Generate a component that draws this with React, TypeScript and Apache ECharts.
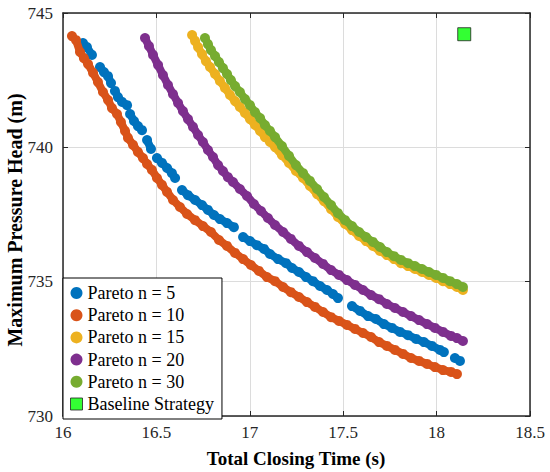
import React, { useEffect, useRef } from "react";
import * as echarts from "echarts";

// ---- tick labels ----
const xTicks = [16, 16.5, 17, 17.5, 18, 18.5];
const yTicks = [730, 735, 740, 745];

// ---- series names ----
const seriesNames = [
  "Pareto n = 5",
  "Pareto n = 10",
  "Pareto n = 15",
  "Pareto n = 20",
  "Pareto n = 30",
];
const baselineName = "Baseline Strategy";

// ---- series values [closing time (s), max pressure head (m)] ----
const G: [string, string] = ["-", "-"]; // gap between dot clusters
const pareto5: any[] = [
  [16.107, 743.88], [16.128, 743.73], [16.155, 743.44], G,
  [16.198, 742.99], [16.219, 742.8], [16.241, 742.65], [16.257, 742.39], G,
  [16.278, 742.1], [16.294, 741.87], [16.316, 741.69], [16.343, 741.57], G,
  [16.359, 741.24], [16.38, 740.98], [16.401, 740.79], [16.423, 740.64], G,
  [16.45, 740.27], [16.471, 739.94], G,
  [16.503, 739.6], [16.53, 739.42], [16.557, 739.23], [16.583, 739.04], [16.6, 738.86], G,
  [16.637, 738.41], [16.669, 738.22], [16.707, 738.04], [16.744, 737.85], [16.776, 737.67],
  [16.808, 737.48], [16.84, 737.33], [16.878, 737.18], [16.915, 737.03], G,
  [16.964, 736.66], [17.001, 736.51], [17.038, 736.36], [17.076, 736.22], [17.108, 736.03],
  [17.151, 735.84], [17.194, 735.69], [17.226, 735.51], [17.263, 735.36], [17.301, 735.17],
  [17.338, 735.02], [17.376, 734.84], [17.413, 734.69], [17.445, 734.54], [17.472, 734.39], G,
  [17.547, 734.09], [17.59, 733.91], [17.633, 733.72], [17.675, 733.61], [17.718, 733.42],
  [17.761, 733.28], [17.804, 733.13], [17.847, 733.01], [17.89, 732.87], [17.932, 732.75],
  [17.975, 732.61], [18.018, 732.46], [18.039, 732.38], G,
  [18.098, 732.16], [18.125, 732.05],
];
const pareto10: number[][] = [
  [16.048, 744.14], [16.07, 743.99], [16.091, 743.55], [16.112, 743.32], [16.134, 743.1],
  [16.161, 742.77], [16.187, 742.43], [16.214, 742.06], [16.241, 741.76], [16.262, 741.46],
  [16.289, 741.24], [16.31, 740.94], [16.332, 740.61], [16.348, 740.35], [16.375, 740.09],
  [16.401, 739.83], [16.428, 739.6], [16.45, 739.38], [16.476, 739.16], [16.503, 738.86],
  [16.53, 738.6], [16.557, 738.34], [16.589, 738.04], [16.626, 737.78], [16.664, 737.52],
  [16.707, 737.29], [16.749, 737.07], [16.792, 736.85], [16.835, 736.55], [16.878, 736.33],
  [16.921, 736.07], [16.964, 735.84], [17.006, 735.62], [17.049, 735.4], [17.092, 735.17],
  [17.135, 735.02], [17.178, 734.8], [17.22, 734.61], [17.263, 734.43], [17.306, 734.24],
  [17.349, 734.06], [17.392, 733.87], [17.435, 733.68], [17.477, 733.54], [17.52, 733.39],
  [17.563, 733.24], [17.606, 733.09], [17.649, 732.94], [17.692, 732.75], [17.734, 732.61],
  [17.777, 732.46], [17.82, 732.31], [17.863, 732.16], [17.906, 732.05], [17.949, 731.94],
  [17.991, 731.82], [18.034, 731.71], [18.077, 731.64], [18.109, 731.56],
];
const pareto15: number[][] = [
  [16.691, 744.18], [16.707, 743.96], [16.723, 743.73], [16.744, 743.47], [16.765, 743.21],
  [16.787, 742.99], [16.814, 742.73], [16.84, 742.47], [16.867, 742.21], [16.894, 741.95],
  [16.921, 741.72], [16.947, 741.5], [16.974, 741.28], [17.001, 741.05], [17.028, 740.83],
  [17.055, 740.61], [17.081, 740.38], [17.108, 740.2], [17.135, 740.01], [17.172, 739.71],
  [17.21, 739.42], [17.247, 739.12], [17.285, 738.86], [17.322, 738.56], [17.36, 738.26],
  [17.397, 738.0], [17.435, 737.7], [17.472, 737.41], [17.51, 737.15], [17.547, 736.92],
  [17.585, 736.7], [17.622, 736.51], [17.659, 736.33], [17.697, 736.14], [17.734, 735.99],
  [17.772, 735.84], [17.809, 735.69], [17.847, 735.58], [17.884, 735.47], [17.922, 735.36],
  [17.959, 735.25], [17.997, 735.14], [18.034, 735.02], [18.072, 734.91], [18.109, 734.8],
  [18.141, 734.69],
];
const pareto20: number[][] = [
  [16.439, 744.07], [16.46, 743.77], [16.482, 743.44], [16.509, 743.06], [16.535, 742.69],
  [16.562, 742.32], [16.589, 741.98], [16.616, 741.65], [16.642, 741.35], [16.669, 741.05],
  [16.696, 740.76], [16.723, 740.46], [16.749, 740.2], [16.776, 739.9], [16.803, 739.64],
  [16.83, 739.34], [16.856, 739.12], [16.883, 738.89], [16.91, 738.71], [16.947, 738.45],
  [16.985, 738.19], [17.022, 737.89], [17.06, 737.63], [17.097, 737.37], [17.135, 737.11],
  [17.178, 736.85], [17.22, 736.59], [17.263, 736.33], [17.306, 736.1], [17.349, 735.88],
  [17.392, 735.66], [17.435, 735.43], [17.477, 735.25], [17.52, 735.06], [17.563, 734.88],
  [17.606, 734.69], [17.649, 734.5], [17.692, 734.35], [17.734, 734.17], [17.777, 734.02],
  [17.82, 733.87], [17.863, 733.72], [17.906, 733.57], [17.949, 733.42], [17.991, 733.28],
  [18.034, 733.13], [18.077, 732.98], [18.109, 732.9], [18.141, 732.79],
];
const pareto30: number[][] = [
  [16.76, 744.07], [16.776, 743.84], [16.792, 743.62], [16.814, 743.4], [16.835, 743.17],
  [16.856, 742.95], [16.878, 742.73], [16.899, 742.5], [16.921, 742.28], [16.947, 742.06],
  [16.974, 741.8], [17.001, 741.57], [17.028, 741.31], [17.055, 741.09], [17.081, 740.83],
  [17.108, 740.61], [17.135, 740.38], [17.172, 740.05], [17.21, 739.68], [17.247, 739.34],
  [17.285, 739.04], [17.322, 738.75], [17.36, 738.45], [17.397, 738.15], [17.435, 737.85],
  [17.472, 737.55], [17.51, 737.29], [17.547, 737.07], [17.585, 736.85], [17.622, 736.66],
  [17.659, 736.48], [17.697, 736.29], [17.734, 736.1], [17.772, 735.95], [17.809, 735.81],
  [17.847, 735.69], [17.884, 735.58], [17.922, 735.47], [17.959, 735.36], [17.997, 735.25],
  [18.034, 735.14], [18.072, 735.02], [18.109, 734.91], [18.141, 734.8],
];
const baseline: number[][] = [[18.148, 744.21]];

const seriesData = [pareto5, pareto10, pareto15, pareto20, pareto30];
const colors = ["#0072BD", "#D95319", "#EDB120", "#7E2F8E", "#77AC30"];

const FONT = "Liberation Serif";
const INK = "#262626";

export default function App() {
  const ref = useRef<HTMLDivElement>(null);

  useEffect(() => {
    document.body.style.margin = "0";
    if (!ref.current) return;
    const chart = echarts.init(ref.current, undefined, { renderer: "svg" });

    const xMin = xTicks[0];
    const xMax = xTicks[xTicks.length - 1];
    const xInt = xTicks[1] - xTicks[0];
    const yMin = yTicks[0];
    const yMax = yTicks[yTicks.length - 1];
    const yInt = yTicks[1] - yTicks[0];

    const tick = { show: true, inside: true, length: 5, lineStyle: { color: INK, width: 1 } };
    const line = { show: true, onZero: false, lineStyle: { color: INK, width: 1.5 } };
    const label = { color: INK, fontFamily: FONT, fontSize: 17 };

    const lineSeries = seriesNames.map((name, i) => ({
      type: "line",
      name,
      data: seriesData[i],
      xAxisIndex: 0,
      yAxisIndex: 0,
      connectNulls: false,
      symbol: "circle",
      symbolSize: 10,
      showSymbol: true,
      showAllSymbol: true,
      itemStyle: { color: colors[i], borderWidth: 0 },
      lineStyle: { color: colors[i], width: 8, cap: "round", join: "round" },
      emphasis: { disabled: true },
      silent: true,
      z: 2 + i * 0.01,
    }));

    chart.setOption({
      animation: false,
      backgroundColor: "#ffffff",
      textStyle: { fontFamily: FONT },
      grid: { left: 63, right: 20, top: 13, bottom: 56, containLabel: false },
      xAxis: [
        {
          type: "value",
          position: "bottom",
          min: xMin,
          max: xMax,
          interval: xInt,
          axisLine: line,
          axisTick: tick,
          axisLabel: { ...label, margin: 8 },
          splitLine: { show: true, lineStyle: { color: "#dcdcdc", width: 1 } },
        },
        {
          type: "value",
          position: "top",
          min: xMin,
          max: xMax,
          interval: xInt,
          axisLine: line,
          axisTick: tick,
          axisLabel: { show: false },
          splitLine: { show: false },
        },
      ],
      yAxis: [
        {
          type: "value",
          position: "left",
          min: yMin,
          max: yMax,
          interval: yInt,
          axisLine: line,
          axisTick: tick,
          axisLabel: { ...label, margin: 10 },
          splitLine: { show: true, lineStyle: { color: "#dcdcdc", width: 1 } },
        },
        {
          type: "value",
          position: "right",
          min: yMin,
          max: yMax,
          interval: yInt,
          axisLine: line,
          axisTick: tick,
          axisLabel: { show: false },
          splitLine: { show: false },
        },
      ],
      legend: {
        orient: "vertical",
        left: 63,
        top: 278,
        padding: [6, 8, 6, 7],
        itemGap: 4.2,
        itemWidth: 12,
        itemHeight: 12,
        backgroundColor: "#ffffff",
        borderColor: "#000000",
        borderWidth: 1,
        borderRadius: 0,
        selectedMode: false,
        itemStyle: { borderWidth: 0 },
        textStyle: { color: "#000000", fontFamily: FONT, fontSize: 18 },
        data: [
          ...seriesNames.map((n) => ({ name: n, icon: "circle" })),
          {
            name: baselineName,
            icon: "rect",
            itemStyle: { color: "#00ff00", borderColor: "#222222", borderWidth: 1 },
          },
        ],
      },
      graphic: [
        {
          type: "text",
          x: 296,
          y: 458,
          style: {
            text: "Total Closing Time (s)",
            font: `bold 19px ${FONT}`,
            fill: "#000000",
            textAlign: "center",
            textVerticalAlign: "middle",
          },
        },
        {
          type: "text",
          x: 15,
          y: 220,
          rotation: Math.PI / 2,
          style: {
            text: "Maximum Pressure Head (m)",
            font: `bold 20px ${FONT}`,
            fill: "#000000",
            textAlign: "center",
            textVerticalAlign: "middle",
          },
        },
      ],
      series: [
        ...lineSeries,
        {
          type: "scatter",
          name: baselineName,
          data: baseline,
          symbol: "rect",
          symbolSize: 13,
          itemStyle: { color: "#00ff00", borderColor: "#222222", borderWidth: 1 },
          emphasis: { disabled: true },
          silent: true,
          z: 3,
        },
      ],
    });

    return () => chart.dispose();
  }, []);

  return (
    <div
      ref={ref}
      style={{ position: "absolute", left: 0, top: 0, width: 550, height: 472 }}
    />
  );
}
